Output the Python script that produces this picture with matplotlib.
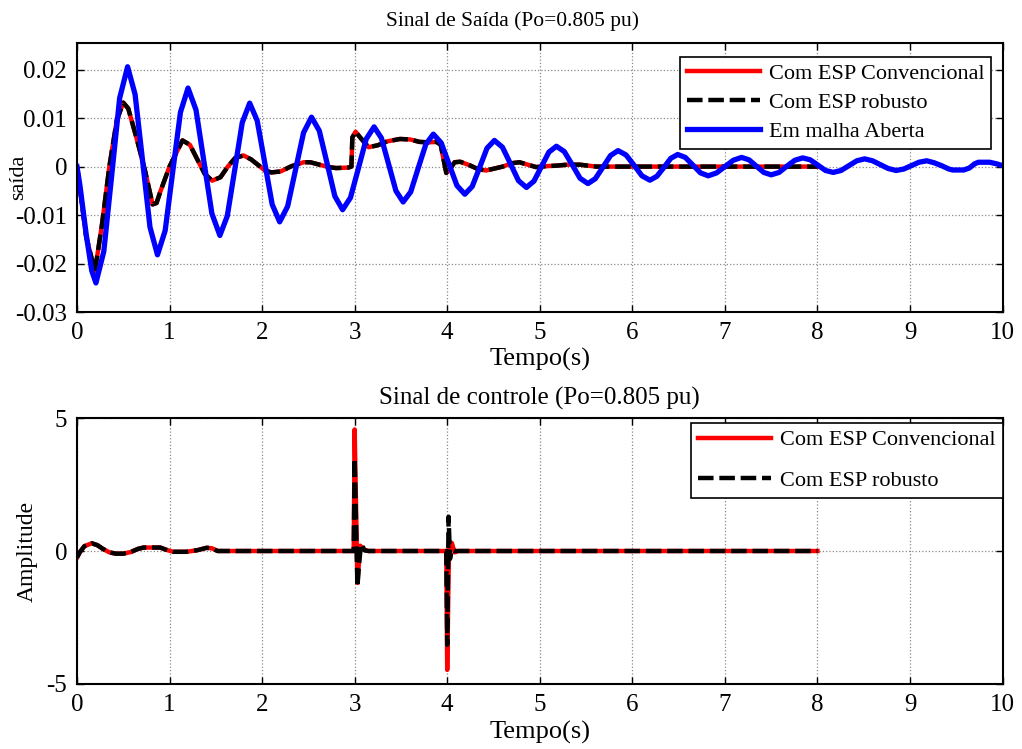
import numpy as np
import matplotlib
matplotlib.use("Agg")
import matplotlib.pyplot as plt

plt.rcParams['font.family'] = ['Liberation Serif', 'DejaVu Serif']
plt.rcParams['axes.unicode_minus'] = False

# ---- Sinal de saída: malha aberta (azul) ----
t_aberta = [0, 0.03, 0.10, 0.16, 0.205, 0.290, 0.376, 0.461, 0.547, 0.628, 0.709, 0.789,
            0.870, 0.953, 1.035, 1.118, 1.200, 1.286, 1.372, 1.458, 1.544, 1.624, 1.705,
            1.786, 1.866, 1.947, 2.028, 2.109, 2.190, 2.276, 2.362, 2.448, 2.534, 2.618,
            2.702, 2.786, 2.870, 2.955, 3.040, 3.125, 3.210, 3.289, 3.367, 3.446, 3.524,
            3.606, 3.687, 3.769, 3.850, 3.935, 4.020, 4.105, 4.190, 4.270, 4.350, 4.430,
            4.510, 4.597, 4.683, 4.770, 4.856, 4.937, 5.018, 5.099, 5.180, 5.265, 5.350,
            5.435, 5.520, 5.600, 5.683, 5.765, 5.846, 5.932, 6.018, 6.104, 6.190, 6.265,
            6.340, 6.415, 6.490, 6.572, 6.655, 6.737, 6.820, 6.910, 7.000, 7.090, 7.180,
            7.260, 7.340, 7.420, 7.500, 7.585, 7.670, 7.755, 7.840, 7.922, 8.005, 8.087,
            8.170, 8.255, 8.340, 8.425, 8.510, 8.595, 8.680, 8.765, 8.850, 8.932, 9.015,
            9.097, 9.180, 9.260, 9.340, 9.420, 9.460, 9.580, 9.640, 9.700, 9.740, 9.860,
            9.930, 10.0]
y_aberta = [0, -0.0036, -0.0140, -0.0215, -0.0240, -0.0175, -0.0017, 0.0141, 0.0206, 0.0149,
            0.0012, -0.0125, -0.0182, -0.0132, -0.0010, 0.0112, 0.0162, 0.0117, 0.0010,
            -0.0097, -0.0142, -0.0102, -0.0006, 0.0091, 0.0131, 0.0095, 0.0009, -0.0078,
            -0.0114, -0.0082, -0.0006, 0.0070, 0.0102, 0.0074, 0.0007, -0.0061, -0.0089,
            -0.0064, -0.0004, 0.0057, 0.0082, 0.0059, 0.0005, -0.0050, -0.0073, -0.0052,
            -0.0003, 0.0046, 0.0067, 0.0049, 0.0005, -0.0039, -0.0057, -0.0041, -0.0002,
            0.0038, 0.0054, 0.0040, 0.0006, -0.0029, -0.0043, -0.0030, 0.0000, 0.0030,
            0.0042, 0.0031, 0.0004, -0.0024, -0.0035, -0.0025, -0.0001, 0.0023, 0.0033,
            0.0024, 0.0003, -0.0019, -0.0028, -0.0020, -0.0002, 0.0017, 0.0025, 0.0019,
            0.0003, -0.0013, -0.0019, -0.0013, 0.0000, 0.0013, 0.0019, 0.0014, 0.0001,
            -0.0012, -0.0017, -0.0012, 0.0001, 0.0013, 0.0018, 0.0014, 0.0003, -0.0008,
            -0.0012, -0.0008, 0.0002, 0.0012, 0.0016, 0.0012, 0.0004, -0.0004, -0.0008,
            -0.0005, 0.0002, 0.0009, 0.0012, 0.0008, 0.0002, -0.0005, -0.0007, -0.0007,
            -0.0003, 0.0006, 0.0009, 0.0009, 0.0006, 0.0002]

# ---- Sinal de saída: com ESP (vermelho / preto) ----
t_esp = [0, 0.05, 0.10, 0.194, 0.27, 0.35, 0.43, 0.50, 0.554, 0.645, 0.735, 0.817, 0.86,
         0.90, 1.00, 1.14, 1.22, 1.30, 1.38, 1.46, 1.55, 1.63, 1.71, 1.80, 1.88, 1.96,
         2.03, 2.10, 2.20, 2.32, 2.45, 2.52, 2.62, 2.72, 2.80, 2.93, 2.965, 2.975, 3.01,
         3.06, 3.15, 3.25, 3.35, 3.49, 3.60, 3.70, 3.80, 3.885, 3.93, 3.955, 3.99, 4.03,
         4.08, 4.14, 4.24, 4.33, 4.42, 4.51, 4.60, 4.70, 4.78, 4.87, 4.96, 5.08, 5.18,
         5.30, 5.43, 5.61, 6.2, 7.0, 8.0]
y_esp_conv = [0, -0.0070, -0.0145, -0.0216, -0.0120, 0.0000, 0.0095, 0.0132, 0.0120,
              0.0058, -0.0008, -0.0078, -0.0075, -0.0052, 0.0000, 0.0054, 0.0045, 0.0015,
              -0.0015, -0.0029, -0.0022, 0.0000, 0.0018, 0.0023, 0.0015, 0.0003, -0.0008,
              -0.0012, -0.0010, 0.0001, 0.0009, 0.0009, 0.0004, -0.0001, -0.0003, -0.0002,
              0.0000, 0.0060, 0.0072, 0.0060, 0.0040, 0.0044, 0.0052, 0.0057, 0.0056,
              0.0051, 0.0050, 0.0051, 0.0045, 0.0020, -0.0013, -0.0005, 0.0009, 0.0010,
              0.0003, -0.0005, -0.0008, -0.0004, 0.0000, 0.0007, 0.0009, 0.0004, -0.0001,
              0.0001, 0.0002, 0.0004, 0.0004, 0.0000, 0.0, 0.0, 0.0]
y_esp_rob = y_esp_conv

# ---- Sinal de controle ----
t_ctrl_conv = [0, 0.03, 0.08, 0.16, 0.22, 0.28, 0.35, 0.42, 0.50, 0.58, 0.66, 0.72, 0.90,
               0.96, 1.04, 1.18, 1.30, 1.40, 1.46, 1.52, 2.99, 3.00, 3.03, 3.06, 3.10, 3.15,
               3.99, 4.00, 4.02, 4.05, 4.08, 4.12, 8.0]
u_ctrl_conv = [-0.25, -0.05, 0.18, 0.29, 0.22, 0.08, -0.05, -0.10, -0.10, -0.04, 0.08, 0.13,
               0.13, 0.05, -0.03, -0.03, 0.03, 0.12, 0.10, 0.0, 0.0, 4.57, -1.20, 0.20,
               0.05, 0.0, 0.0, -4.47, 0.35, 0.30, -0.05, 0.0, 0.0]
t_ctrl_rob = [0, 0.03, 0.08, 0.16, 0.22, 0.28, 0.35, 0.42, 0.50, 0.58, 0.66, 0.72, 0.90,
              0.96, 1.04, 1.18, 1.30, 1.40, 1.46, 1.52, 2.99, 3.00, 3.03, 3.05, 3.07, 3.11,
              3.15, 3.99, 4.00, 4.015, 4.03, 4.05, 4.08, 8.0]
u_ctrl_rob = [-0.25, -0.05, 0.18, 0.29, 0.22, 0.08, -0.05, -0.10, -0.10, -0.04, 0.08, 0.13,
              0.13, 0.05, -0.03, -0.03, 0.03, 0.12, 0.10, 0.0, 0.0, 3.48, -1.34, -0.40,
              0.26, 0.02, 0.0, 0.0, -3.53, 1.29, -0.30, 0.05, 0.0, 0.0]

lab_conv = 'Com ESP Convencional'
lab_rob = 'Com ESP robusto'
lab_aberta = 'Em malha Aberta'

fig = plt.figure(figsize=(10.22, 7.49), dpi=100)
ax1 = fig.add_axes([0.0753, 0.5834, 0.9057, 0.3592])
ax2 = fig.add_axes([0.0753, 0.0868, 0.9057, 0.3551])

lw = 3.2
tracejado = (0, (3.5, 1.3))
ax1.plot(t_esp, y_esp_conv, color='red', lw=lw, label=lab_conv)
ax1.plot(t_esp, y_esp_rob, color='black', lw=lw, ls=tracejado, label=lab_rob)
ax1.plot(t_aberta, y_aberta, color='blue', lw=3.8, label=lab_aberta)

ax2.plot(t_ctrl_conv, u_ctrl_conv, color='red', lw=lw, label=lab_conv)
ax2.plot(t_ctrl_rob, u_ctrl_rob, color='black', lw=lw, ls=tracejado, label=lab_rob)

def estilo(ax, pad_x):
    ax.set_xlim(0, 10)
    ax.set_xticks(range(0, 11))
    ax.grid(True, ls=':', color='#8a8a8a', lw=0.9)
    ax.tick_params(direction='in', top=True, right=True, length=5, width=1,
                   labelsize=18)
    ax.tick_params(axis='x', pad=7)
    ax.tick_params(axis='y', pad=7)
    for s in ax.spines.values():
        s.set_linewidth(1.5)
    ax.set_xlabel('Tempo(s)', fontsize=19, labelpad=pad_x)

estilo(ax1, 3)
ax1.set_ylim(-0.03, 0.0255)
ax1.set_yticks([-0.03, -0.02, -0.01, 0, 0.01, 0.02])
ax1.set_yticklabels(['-0.03', '-0.02', '-0.01', '0', '0.01', '0.02'])
ax1.set_ylabel('saída', fontsize=16, labelpad=-9)
ax1.set_title('Sinal de Saída (Po=0.805 pu)', fontsize=15.5, pad=12, x=0.471)

estilo(ax2, 4)
ax2.set_ylim(-5, 5)
ax2.set_yticks([-5, 0, 5])
ax2.set_ylabel('Amplitude', fontsize=17, labelpad=6)
ax2.set_title('Sinal de controle (Po=0.805 pu)', fontsize=18, pad=10)

leg_kw = dict(loc='upper right', fontsize=16, frameon=True, fancybox=False,
              framealpha=1, edgecolor='black', handlelength=3.3,
              borderaxespad=0, borderpad=0.3, handletextpad=0.4)
l1 = ax1.legend(bbox_to_anchor=(0.988, 0.948), labelspacing=0.38, **leg_kw)
l2 = ax2.legend(bbox_to_anchor=(1.0, 0.981), labelspacing=0.9, **leg_kw)
for l in (l1, l2):
    l.get_frame().set_linewidth(1.2)

fig.savefig('out.png', dpi=100)
